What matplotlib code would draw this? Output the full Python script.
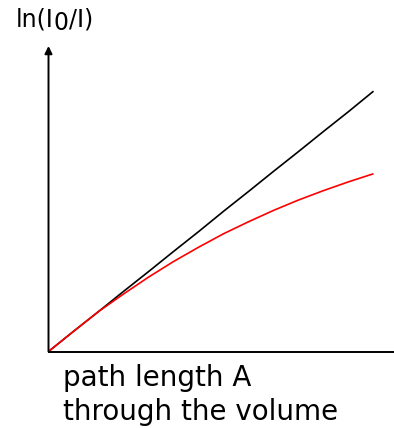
import matplotlib
matplotlib.use("Agg")
import matplotlib.pyplot as plt

# path length (arbitrary units) and ln(I0/I) for ideal and real absorbers
path_length = [0, 0.77, 1.54, 2.31, 3.08, 3.85, 4.62, 5.38, 6.15, 6.92, 7.69, 8.46, 9.23, 10.0]
ideal_absorbance = [0.0, 0.62, 1.23, 1.85, 2.46, 3.08, 3.69, 4.31, 4.92, 5.54, 6.15, 6.77, 7.38, 8.01]
real_absorbance = [0.0, 0.62, 1.23, 1.77, 2.29, 2.77, 3.21, 3.62, 3.99, 4.34, 4.66, 4.95, 5.22, 5.47]

W, H = 394, 428
fig = plt.figure(figsize=(W / 100, H / 100), dpi=100)

x0, y0 = 48.5, 351.5          # origin in pixels (from top-left)
scale = 32.5                  # pixels per data unit
x_end, y_top = 394, 46
ax = fig.add_axes([x0 / W, (H - y0) / H, (x_end - x0) / W, (y0 - y_top) / H])
ax.set_xlim(0, (x_end - x0) / scale)
ax.set_ylim(0, (y0 - y_top) / scale)

ax.plot(path_length, ideal_absorbance, color="black", lw=1.2, solid_capstyle="butt")
ax.plot(path_length, real_absorbance, color="red", lw=1.2, solid_capstyle="butt")

for s in ("top", "right", "left"):
    ax.spines[s].set_visible(False)
ax.spines["bottom"].set_linewidth(1.4)
ax.set_xticks([])
ax.set_yticks([])
ax.patch.set_alpha(0)

# vertical axis with arrow head
ax.annotate("", xy=(0, (y0 - y_top) / scale), xytext=(0, 0),
            xycoords="data", textcoords="data",
            arrowprops=dict(arrowstyle="-|>", color="black", lw=1.4,
                            mutation_scale=11, shrinkA=0, shrinkB=0),
            annotation_clip=False)

# y-axis label: ln(I0/I) with a lowered, full-size 0
fs_y = 17
base_y = (H - 26.5) / H
t1 = fig.text(16 / W, base_y, "ln(I", fontsize=fs_y, va="baseline", ha="left")
fig.canvas.draw()
r = fig.canvas.get_renderer()
e1 = t1.get_window_extent(r)
t2 = fig.text(e1.x1 / W, base_y - 4 / H, "0", fontsize=fs_y, va="baseline", ha="left")
fig.canvas.draw()
e2 = t2.get_window_extent(r)
fig.text(e2.x1 / W, base_y, "/I)", fontsize=fs_y, va="baseline", ha="left")

# x-axis label on two lines
fs_x = 20
fig.text(63 / W, (H - 386.5) / H, "path length A", fontsize=fs_x, va="baseline", ha="left")
fig.text(63 / W, (H - 420) / H, "through the volume", fontsize=fs_x, va="baseline", ha="left")

fig.savefig("out.png", dpi=100, facecolor="white")
